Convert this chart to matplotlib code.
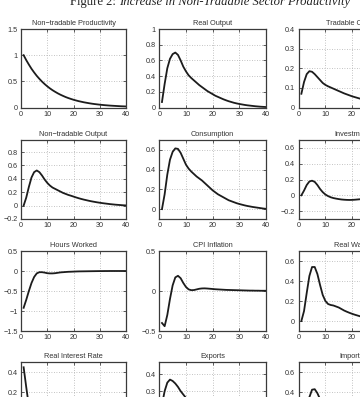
import matplotlib
matplotlib.use("Agg")
import matplotlib.pyplot as plt
import numpy as np

# Impulse responses, periods 1..40
periods = np.arange(1, 41)

titles = [
    "Non\u2212tradable Productivity", "Real Output", "Tradable Output",
    "Non\u2212tradable Output", "Consumption", "Investment",
    "Hours Worked", "CPI Inflation", "Real Wage",
    "Real Interest Rate", "Exports", "Imports",
]

nt_productivity = [1.0, 0.905, 0.82, 0.74, 0.67, 0.605, 0.548, 0.495, 0.448, 0.405,
                   0.366, 0.331, 0.3, 0.271, 0.245, 0.222, 0.2, 0.181, 0.164, 0.148,
                   0.134, 0.121, 0.11, 0.099, 0.09, 0.081, 0.073, 0.066, 0.06, 0.054,
                   0.049, 0.044, 0.04, 0.036, 0.033, 0.03, 0.027, 0.024, 0.022, 0.02]
real_output = [0.07, 0.30, 0.50, 0.62, 0.68, 0.70, 0.67, 0.60, 0.52, 0.46,
               0.41, 0.375, 0.345, 0.315, 0.285, 0.26, 0.235, 0.21, 0.19, 0.17,
               0.15, 0.135, 0.12, 0.105, 0.092, 0.08, 0.07, 0.06, 0.052, 0.045,
               0.039, 0.033, 0.028, 0.024, 0.02, 0.016, 0.013, 0.01, 0.008, 0.006]
tradable_out = [0.07, 0.13, 0.17, 0.185, 0.182, 0.17, 0.155, 0.14, 0.125, 0.115,
                0.108, 0.102, 0.096, 0.09, 0.084, 0.078, 0.072, 0.067, 0.062, 0.057,
                0.053, 0.049, 0.045, 0.041, 0.038, 0.035, 0.032, 0.029, 0.026, 0.024,
                0.022, 0.02, 0.018, 0.016, 0.014, 0.013, 0.012, 0.011, 0.01, 0.009]
nt_output = [0.0, 0.12, 0.28, 0.42, 0.50, 0.525, 0.50, 0.45, 0.39, 0.34,
             0.30, 0.27, 0.25, 0.23, 0.21, 0.19, 0.175, 0.16, 0.148, 0.135,
             0.122, 0.11, 0.099, 0.089, 0.08, 0.071, 0.063, 0.056, 0.049, 0.043,
             0.037, 0.032, 0.027, 0.022, 0.018, 0.014, 0.011, 0.008, 0.005, 0.003]
consumption = [0.0, 0.15, 0.35, 0.50, 0.58, 0.615, 0.61, 0.57, 0.51, 0.45,
               0.41, 0.38, 0.355, 0.33, 0.31, 0.29, 0.265, 0.24, 0.215, 0.19,
               0.17, 0.15, 0.135, 0.12, 0.105, 0.09, 0.08, 0.07, 0.06, 0.052,
               0.045, 0.038, 0.032, 0.027, 0.022, 0.018, 0.014, 0.01, 0.006, 0.003]
investment = [0.0, 0.06, 0.13, 0.175, 0.185, 0.17, 0.13, 0.08, 0.04, 0.01,
              -0.01, -0.025, -0.035, -0.042, -0.048, -0.053, -0.056, -0.058, -0.059, -0.058,
              -0.056, -0.053, -0.05, -0.047, -0.043, -0.04, -0.036, -0.032, -0.028, -0.025,
              -0.022, -0.019, -0.016, -0.013, -0.011, -0.009, -0.007, -0.005, -0.004, -0.003]
hours = [-0.92, -0.72, -0.50, -0.30, -0.15, -0.06, -0.03, -0.03, -0.04, -0.055,
         -0.06, -0.06, -0.055, -0.045, -0.035, -0.03, -0.025, -0.02, -0.018, -0.015,
         -0.012, -0.01, -0.009, -0.008, -0.007, -0.006, -0.005, -0.004, -0.003, -0.002,
         -0.002, -0.001, -0.001, 0.0, 0.0, 0.0, 0.0, 0.0, 0.0, 0.0]
cpi_inflation = [-0.40, -0.44, -0.30, -0.10, 0.07, 0.17, 0.19, 0.16, 0.10, 0.05,
                 0.02, 0.01, 0.012, 0.02, 0.028, 0.032, 0.033, 0.031, 0.028, 0.025,
                 0.022, 0.02, 0.018, 0.016, 0.014, 0.013, 0.012, 0.011, 0.01, 0.009,
                 0.008, 0.007, 0.006, 0.005, 0.005, 0.004, 0.004, 0.003, 0.003, 0.003]
real_wage = [0.0, 0.10, 0.28, 0.45, 0.54, 0.54, 0.47, 0.36, 0.26, 0.20,
             0.17, 0.16, 0.155, 0.145, 0.135, 0.12, 0.105, 0.093, 0.082, 0.072,
             0.063, 0.055, 0.047, 0.04, 0.034, 0.029, 0.025, 0.021, 0.018, 0.015,
             0.013, 0.011, 0.009, 0.008, 0.007, 0.006, 0.005, 0.004, 0.003, 0.002]
real_rate = [0.45, 0.25, 0.06, -0.06, -0.12, -0.14, -0.13, -0.11, -0.09, -0.07,
             -0.06, -0.05, -0.04, -0.035, -0.03, -0.025, -0.02, -0.018, -0.015, -0.013,
             -0.011, -0.01, -0.009, -0.008, -0.007, -0.006, -0.005, -0.004, -0.004, -0.003,
             -0.003, -0.002, -0.002, -0.002, -0.001, -0.001, -0.001, 0.0, 0.0, 0.0]
exports = [0.22, 0.30, 0.35, 0.368, 0.36, 0.345, 0.325, 0.30, 0.28, 0.26,
           0.24, 0.225, 0.21, 0.195, 0.18, 0.17, 0.16, 0.15, 0.14, 0.13,
           0.12, 0.11, 0.10, 0.092, 0.085, 0.078, 0.071, 0.065, 0.06, 0.055,
           0.05, 0.045, 0.041, 0.037, 0.034, 0.031, 0.028, 0.025, 0.023, 0.021]
imports = [0.0, 0.10, 0.24, 0.35, 0.425, 0.43, 0.39, 0.33, 0.27, 0.22,
           0.19, 0.17, 0.155, 0.14, 0.13, 0.12, 0.11, 0.10, 0.09, 0.082,
           0.074, 0.067, 0.06, 0.054, 0.048, 0.043, 0.038, 0.034, 0.03, 0.027,
           0.024, 0.021, 0.019, 0.017, 0.015, 0.013, 0.011, 0.01, 0.009, 0.008]

series = [nt_productivity, real_output, tradable_out,
          nt_output, consumption, investment,
          hours, cpi_inflation, real_wage,
          real_rate, exports, imports]

ylims = [(0, 1.5), (0, 1), (0, 0.4),
         (-0.2, 0.98), (-0.1, 0.7), (-0.3, 0.7),
         (-1.5, 0.5), (-0.5, 0.5), (-0.1, 0.7),
         (-0.3, 0.5), (0, 0.47), (-0.1, 0.7)]
yticks = [[0, 0.5, 1, 1.5], [0, 0.2, 0.4, 0.6, 0.8, 1], [0, 0.1, 0.2, 0.3, 0.4],
          [-0.2, 0, 0.2, 0.4, 0.6, 0.8], [0, 0.2, 0.4, 0.6], [-0.2, 0, 0.2, 0.4, 0.6],
          [-1.5, -1, -0.5, 0, 0.5], [-0.5, 0, 0.5], [0, 0.2, 0.4, 0.6],
          [-0.2, 0, 0.2, 0.4], [0, 0.1, 0.2, 0.3, 0.4], [0, 0.2, 0.4, 0.6]]
xticks = [0, 10, 20, 30, 40]


def fmt(v):
    s = "%g" % v
    return s.replace("-", "\u2212")


W, H = 360, 397
fig = plt.figure(figsize=(W / 100, H / 100), dpi=100)
plt.rcParams["font.family"] = ["Liberation Sans", "DejaVu Sans"]

# pixel boxes of the panel grid (top, bottom) and (left, right)
rows = [(29, 107.5), (140, 219), (251, 331), (362.3, 442)]
cols = [(21, 126), (159.3, 266), (298.7, 405.5)]

txt = "#333333"
for i, (ttl, y) in enumerate(zip(titles, series)):
    r, c = divmod(i, 3)
    top, bot = rows[r]
    left, right = cols[c]
    ax = fig.add_axes([left / W, 1 - bot / H, (right - left) / W, (bot - top) / H])
    ax.plot(periods, y, color="#1c1c1c", lw=1.3)
    ax.set_xlim(0, 40)
    ax.set_ylim(*ylims[i])
    ax.set_xticks(xticks)
    ax.set_xticklabels([fmt(v) for v in xticks])
    ax.set_yticks(yticks[i])
    ax.set_yticklabels([fmt(v) for v in yticks[i]])
    ax.grid(True, linestyle=(0, (1, 2)), color="#b0b0b0", lw=0.6)
    ax.tick_params(direction="in", length=2, width=0.6, labelsize=5.2,
                   labelcolor=txt, color="#444444", pad=2.5,
                   top=True, right=True)
    for sp in ax.spines.values():
        sp.set_color("#3a3a3a")
        sp.set_linewidth(0.9)
    ax.set_title(ttl, fontsize=5.3, color=txt, pad=3)

# figure heading, partly cut at the top edge
split = 119 / W
base = 1 - 5 / H
fig.text(split, base, "Figure 2: ", ha="right", va="baseline",
         family="Liberation Serif", fontsize=9.1, color="#222222")
fig.text(split, base, "Increase in Non-Tradable Sector Productivity", ha="left",
         va="baseline", family="Liberation Serif", style="italic",
         fontsize=9.1, color="#222222")

fig.savefig("out.png", dpi=100)
